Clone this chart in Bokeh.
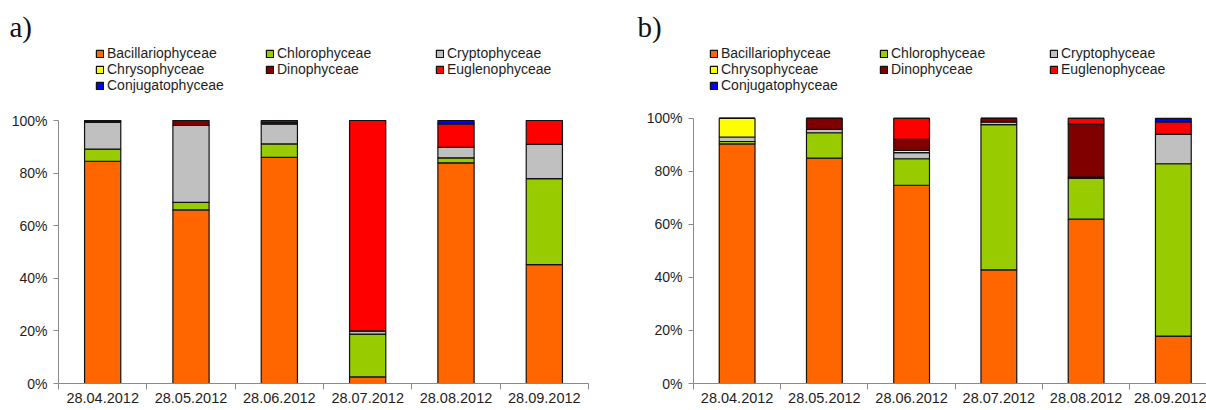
from bokeh.plotting import figure
from bokeh.models import (Range1d, FixedTicker, PrintfTickFormatter, Legend, LegendItem,
                          ColumnDataSource, CustomJSTickFormatter)
from bokeh.layouts import row
from bokeh.embed import file_html
from bokeh.resources import INLINE

dates = ["28.04.2012", "28.05.2012", "28.06.2012", "28.07.2012", "28.08.2012", "28.09.2012"]
classes = ["Bacillariophyceae", "Chlorophyceae", "Cryptophyceae", "Chrysophyceae",
           "Dinophyceae", "Euglenophyceae", "Conjugatophyceae"]
colors = ["#FF6600", "#99CC00", "#C0C0C0", "#FFFF00", "#800000", "#FF0000", "#0000FF"]

# panel a (percent)
a_bacill = [84.5, 66.0, 86.0, 2.5, 83.9, 45.2]
a_chloro = [4.6, 2.9, 5.1, 16.3, 1.9, 32.7]
a_crypto = [10.3, 29.2, 7.6, 1.2, 4.0, 13.0]
a_chryso = [0, 0, 0, 0, 0, 0]
a_dino = [0.4, 1.9, 0.7, 0, 0, 0]
a_eugleno = [0.2, 0, 0.6, 80.0, 8.9, 9.1]
a_conj = [0, 0, 0, 0, 1.3, 0]

# panel b (percent)
b_bacill = [90.4, 85.0, 74.8, 42.9, 62.0, 17.9]
b_chloro = [0.9, 9.6, 10.0, 54.8, 15.4, 65.0]
b_crypto = [1.7, 1.3, 2.3, 1.0, 0.5, 11.1]
b_chryso = [7.0, 0, 0.8, 0, 0, 0]
b_dino = [0, 4.1, 4.2, 1.3, 20.0, 0]
b_eugleno = [0, 0, 7.9, 0, 2.1, 4.7]
b_conj = [0, 0, 0, 0, 0, 1.3]

y_ticks = [0, 20, 40, 60, 80, 100]

FONT = "Liberation Sans"
TXT = "#1e1e1e"
AXC = "#8a8a8a"


def make(series, width, x_end, y_end, bl, br, tag, tag_off, leg_x, leg_y):
    keys = ["s%d" % i for i in range(len(classes))]
    data = {"x": [i + 0.5 for i in range(len(dates))]}
    for k, s in zip(keys, series):
        data[k] = s
    src = ColumnDataSource(data)
    p = figure(width=width, height=410, output_backend="svg", toolbar_location=None,
               x_range=Range1d(0, x_end), y_range=Range1d(0, y_end),
               min_border_left=bl, min_border_top=44, min_border_right=br,
               min_border_bottom=27, title=tag)
    p.outline_line_color = None
    p.xgrid.visible = False
    p.ygrid.visible = False
    p.title.text_font = "Liberation Serif"
    p.title.text_font_size = "29px"
    p.title.text_font_style = "normal"
    p.title.text_color = "#111111"
    p.title.align = "left"
    p.title.offset = tag_off
    p.title.standoff = 3
    rs = p.vbar_stack(keys, x="x", width=0.41, fill_color=colors, line_color="#111111",
                      line_width=1.2, source=src)
    xa = p.xaxis[0]
    xa.ticker = FixedTicker(ticks=[i + 0.5 for i in range(len(dates))],
                            minor_ticks=list(range(len(dates) + 1)))
    xa.formatter = CustomJSTickFormatter(args=dict(labels=dates),
                                         code="return labels[Math.round(tick - 0.5)];")
    xa.major_tick_in = 0
    xa.major_tick_out = 0
    xa.minor_tick_in = 0
    xa.minor_tick_out = 6
    xa.minor_tick_line_color = AXC
    xa.axis_line_color = AXC
    xa.major_label_standoff = 3
    xa.major_label_text_font = FONT
    xa.major_label_text_font_size = "14.5px"
    xa.major_label_text_color = TXT

    ya = p.yaxis[0]
    ya.ticker = FixedTicker(ticks=y_ticks)
    ya.formatter = PrintfTickFormatter(format="%d%%")
    ya.bounds = (0, 100)
    ya.major_tick_in = 0
    ya.major_tick_out = 5
    ya.minor_tick_line_color = None
    ya.major_tick_line_color = AXC
    ya.axis_line_color = AXC
    ya.major_label_standoff = 6
    ya.major_label_text_font = FONT
    ya.major_label_text_font_size = "14px"
    ya.major_label_text_color = TXT

    items = [LegendItem(label=c, renderers=[r]) for c, r in zip(classes, rs)]
    leg = Legend(items=items, location=(leg_x, leg_y), orientation="horizontal", ncols=3,
                 glyph_width=9, glyph_height=9, label_standoff=3, label_width=158,
                 label_height=15, spacing=0, padding=0, margin=0,
                 border_line_alpha=0, background_fill_alpha=0,
                 label_text_font=FONT, label_text_font_size="14px",
                 label_text_color=TXT)
    p.add_layout(leg, "center")
    return p


pa = make([a_bacill, a_chloro, a_crypto, a_chryso, a_dino, a_eugleno, a_conj],
          608, 6.0, 128.9, 58, 20, "a)", -49, 37, 290)
pb = make([b_bacill, b_chloro, b_crypto, b_chryso, b_dino, b_eugleno, b_conj],
          598, 5.88, 127.9, 85, 0, "b)", -56, 16, 290)

layout = row(pa, pb)
open("out.html", "w").write(file_html(layout, INLINE))
